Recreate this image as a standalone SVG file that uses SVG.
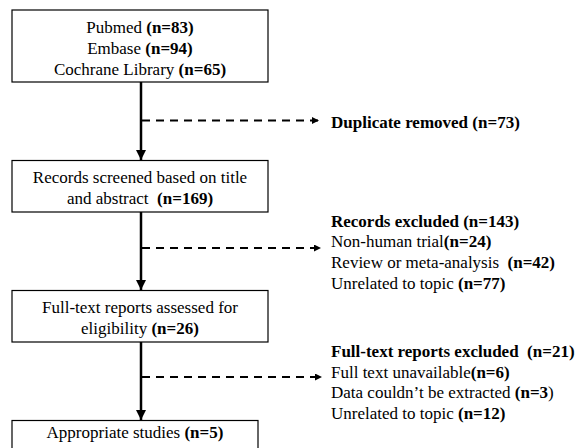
<svg xmlns="http://www.w3.org/2000/svg" width="578" height="448" viewBox="0 0 578 448">
<style>
text{font-family:"Liberation Serif","Times New Roman",serif;font-size:17px;fill:#000}
.c{text-anchor:middle}
.b{font-weight:bold}
.box{fill:#fff;stroke:#000;stroke-width:1.2}
.solid{stroke:#000;stroke-width:2.5;fill:none}
.dash{stroke:#000;stroke-width:2;fill:none;stroke-dasharray:8 6}
</style>
<defs>
<marker id="ah" viewBox="0 0 10 10" refX="10" refY="5" markerWidth="4" markerHeight="4" orient="auto" markerUnits="strokeWidth">
<path d="M0,0 L10,5 L0,10 z" fill="#000"/>
</marker>
<marker id="ahd" viewBox="0 0 10 10" refX="10" refY="5" markerWidth="4.5" markerHeight="3.5" orient="auto" markerUnits="strokeWidth">
<path d="M0,0 L10,5 L0,10 z" fill="#000"/>
</marker>
</defs>
<rect width="578" height="448" fill="#fff"/>
<g id="connectors">
<line class="solid" x1="141" y1="82" x2="141" y2="160" marker-end="url(#ah)"/>
<line class="solid" x1="141" y1="212" x2="141" y2="290" marker-end="url(#ah)"/>
<line class="solid" x1="141" y1="342" x2="141" y2="420" marker-end="url(#ah)"/>
<line class="dash" x1="142" y1="120.5" x2="319" y2="120.5" marker-end="url(#ahd)"/>
<line class="dash" x1="142" y1="248" x2="321" y2="248" marker-end="url(#ahd)"/>
<line class="dash" x1="142" y1="377" x2="322" y2="377" marker-end="url(#ahd)"/>
</g>
<g id="sources">
<rect class="box" x="12" y="10" width="256" height="72"/>
<text font-family="Liberation Serif" font-size="17" class="c" x="140" y="33">Pubmed <tspan class="b">(n=83)</tspan></text>
<text font-family="Liberation Serif" font-size="17" class="c" x="140" y="54">Embase <tspan class="b">(n=94)</tspan></text>
<text font-family="Liberation Serif" font-size="17" class="c" x="140" y="75">Cochrane Library <tspan class="b">(n=65)</tspan></text>
</g>
<g id="duplicates">
<text font-family="Liberation Serif" font-size="17" class="b" x="331" y="128">Duplicate removed (n=73)</text>
</g>
<g id="screened">
<rect class="box" x="12" y="160.5" width="256" height="51.5"/>
<text font-family="Liberation Serif" font-size="17" class="c" x="140" y="183">Records screened based on title</text>
<text font-family="Liberation Serif" font-size="17" class="c" x="140" y="204" xml:space="preserve">and abstract  <tspan class="b">(n=169)</tspan></text>
</g>
<g id="records-excluded">
<text font-family="Liberation Serif" font-size="17" class="b" x="331" y="227">Records excluded (n=143)</text>
<text font-family="Liberation Serif" font-size="17" x="331" y="247">Non-human trial<tspan class="b">(n=24)</tspan></text>
<text font-family="Liberation Serif" font-size="17" x="331" y="268" xml:space="preserve">Review or meta-analysis  <tspan class="b">(n=42)</tspan></text>
<text font-family="Liberation Serif" font-size="17" x="331" y="289">Unrelated to topic <tspan class="b">(n=77)</tspan></text>
</g>
<g id="fulltext">
<rect class="box" x="12" y="290.5" width="256" height="51.5"/>
<text font-family="Liberation Serif" font-size="17" class="c" x="140" y="313">Full-text reports assessed for</text>
<text font-family="Liberation Serif" font-size="17" class="c" x="140" y="334">eligibility <tspan class="b">(n=26)</tspan></text>
</g>
<g id="fulltext-excluded">
<text font-family="Liberation Serif" font-size="17" class="b" x="331" y="357" xml:space="preserve">Full-text reports excluded  (n=21)</text>
<text font-family="Liberation Serif" font-size="17" x="331" y="378">Full text unavailable<tspan class="b">(n=6)</tspan></text>
<text font-family="Liberation Serif" font-size="17" x="331" y="398">Data couldn’t be extracted <tspan class="b">(n=3</tspan>)</text>
<text font-family="Liberation Serif" font-size="17" x="331" y="419">Unrelated to topic <tspan class="b">(n=12)</tspan></text>
</g>
<g id="included">
<rect class="box" x="12" y="420.5" width="246" height="40"/>
<text font-family="Liberation Serif" font-size="17" class="c" x="135" y="438">Appropriate studies <tspan class="b">(n=5)</tspan></text>
</g>
</svg>
